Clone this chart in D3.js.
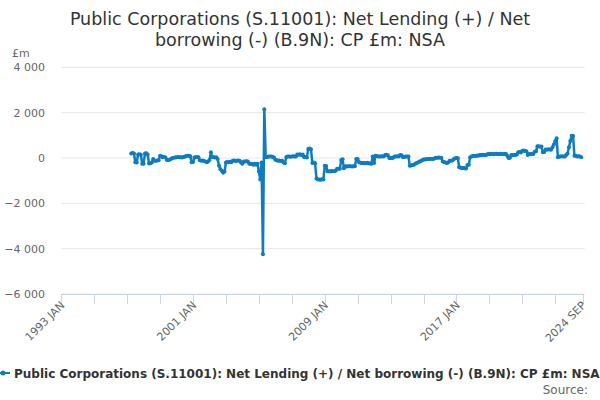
<!DOCTYPE html>
<html>
<head>
<meta charset="utf-8">
<script src="https://cdn.jsdelivr.net/npm/d3@7"></script>
<style>
  body { margin: 0; background: #fff; }
  svg { font-family: "DejaVu Sans", sans-serif; }
</style>
</head>
<body>
<div id="chart"></div>
<script>
// series: monthly, first value is 1997 APR
const seriesName = "Public Corporations (S.11001): Net Lending (+) / Net borrowing (-) (B.9N): CP £m: NSA";
const firstMonth = "1997-04";
const netLending = [
    200, 220, 200, -190, -200, 150, 160, 140, -260, -250, 200, 210, 150, -240, -230, -200, -40,
    -120, -120, -110, -100, 100, 80, 30, 40, 20, -90, -90, -80, -50, 0, 10, 20, 30,
    40, 30, 30, 20, 40, 50, 90, 100, 100, 80, -190, -180, 20, 30, 40, 30, -100, -120,
    -110, -130, -150, -190, -150, -90, 250, 40, 30, 20, 30, -40, -340, -500, -560, -650, -600,
    -200, -180, -190, -170, -190, -120, -110, -130, -120, -110, -120, -200, -260,
    -150, -150, -140, -160, -260, -260, -270, -300, -250, -300, -250, -600, -950, -200,
    -4250, 2150, 40, 30, 60, 70, 70, 50, 20, -80, -100, -120, -110, -130, -120, -200, -235,
    40, 60, 70, 50, 60, 80, 60, 70, 150, 140, 160, 130, 150, 30, 40, 20, 400, 420, 380,
    -220, -200, -230, -900, -950, -950, -960, -940, -950, -340, -350,
    -590, -580, -600, -570, -590, -580, -560, -480, -470, -480, -90, -60, -450,
    -370, -380, -370, -360, -370, -380, -370, -360, -40, -50, -190, -210,
    -220, -220, -230, -220, -210, -230, -240, -260, 70, -220, 100, 90,
    70, 60, 70, 80, 70, 130, 140, 120, 0, 10, -10, 20, 70, 60, 80, 70, 130, 120, 30, 40,
    70, 70, 60, -340, -330, -310, -300, -260, -220, -200, -160, -140, -100, -70, -70, -60,
    -40, -40, -30, -40, -50, -20, 15, 10, 20, 15, 10, -160, -180, -200, -220, -200,
    -120, -120, -110, -60, -15, 0, -10, -410, -420, -450, -440, -450, -460, -310, -300, 30,
    60, 100, 100, 90, 110, 100, 130, 120, 140, 130, 120, 140,
    180, 170, 190, 180, 170, 180, 190, 180, 170, 190, 180, 170, 180, 190, 100, 0, 10,
    130, 120, 140, 130, 150, 250, 260, 240, 320, 330, 310, 300, 130, 180, 170, 190, 180,
    280, 300, 515, 520, 500, 510, 250, 260, 370, 360, 380, 370, 360, 470, 600, 750, 870,
    30, 70, 60, 80, 70, 60, 130, 200, 470, 750, 985, 970, 100, 100, 70, 80, 60, 30
];

const yTicks = [4000, 2000, 0, -2000, -4000, -6000];
const xTickDates = ["1993-01", "1995-01", "1997-01", "1999-01", "2001-01", "2003-01", "2005-01", "2007-01",
    "2009-01", "2011-01", "2013-01", "2015-01", "2017-01", "2019-01", "2021-01", "2023-01", "2024-09"];
const xTickLabels = { "1993-01": "1993 JAN", "2001-01": "2001 JAN", "2009-01": "2009 JAN", "2017-01": "2017 JAN", "2024-09": "2024 SEP" };

const width = 600, height = 400;
const margin = { top: 67.3, right: 17.3, bottom: 106, left: 61.3 };
const lineColor = "#0f7cc0";

const parseMonth = d3.timeParse("%Y-%m");
const start = parseMonth(firstMonth);
const data = netLending.map((v, i) => ({ date: d3.timeMonth.offset(start, i), value: v }));

const svg = d3.select("#chart").append("svg")
    .attr("width", width)
    .attr("height", height);

const x = d3.scaleTime()
    .domain([parseMonth("1993-01"), parseMonth("2024-09")])
    .range([margin.left, width - margin.right]);

const y = d3.scaleLinear()
    .domain([-6000, 4000])
    .range([height - margin.bottom, margin.top]);

const fmt = v => d3.format(",")(v).replace(/,/g, " ");

// title
const title = svg.append("text")
    .attr("text-anchor", "middle")
    .attr("fill", "#333")
    .style("font-size", "17.5px");
title.append("tspan").attr("x", width / 2).attr("y", 25).text("Public Corporations (S.11001): Net Lending (+) / Net");
title.append("tspan").attr("x", width / 2).attr("y", 46).text("borrowing (-) (B.9N): CP £m: NSA");

// y grid + labels
const yAxis = svg.append("g").attr("class", "y-axis");
yAxis.selectAll("line")
    .data(yTicks)
    .enter().append("line")
    .attr("x1", margin.left)
    .attr("x2", width - margin.right + 2)
    .attr("y1", d => y(d))
    .attr("y2", d => y(d))
    .attr("stroke", "#e6e6e6")
    .attr("stroke-width", 1);
yAxis.selectAll("text")
    .data(yTicks)
    .enter().append("text")
    .attr("x", 45)
    .attr("y", d => y(d) + 4)
    .attr("text-anchor", "end")
    .attr("fill", "#666")
    .style("font-size", "11px")
    .text(d => fmt(d));

svg.append("text")
    .attr("x", 12)
    .attr("y", 57)
    .attr("fill", "#666")
    .style("font-size", "11px")
    .text("£m");

// x axis
const xAxis = svg.append("g").attr("class", "x-axis");
xAxis.append("line")
    .attr("x1", margin.left)
    .attr("x2", width - margin.right + 1)
    .attr("y1", y(-6000) + 0.5)
    .attr("y2", y(-6000) + 0.5)
    .attr("stroke", "#ccd6eb");
xAxis.selectAll("line.tick")
    .data(xTickDates)
    .enter().append("line")
    .attr("class", "tick")
    .attr("x1", d => Math.round(x(parseMonth(d))) + 0.5)
    .attr("x2", d => Math.round(x(parseMonth(d))) + 0.5)
    .attr("y1", y(-6000))
    .attr("y2", y(-6000) + 10)
    .attr("stroke", "#ccd6eb");
xAxis.selectAll("text")
    .data(xTickDates.filter(d => xTickLabels[d]))
    .enter().append("text")
    .attr("transform", d => "translate(" + (x(parseMonth(d)) + 4) + "," + (y(-6000) + 12) + ") rotate(-45)")
    .attr("text-anchor", "end")
    .attr("fill", "#666")
    .style("font-size", "11px")
    .text(d => xTickLabels[d]);

// series line
const line = d3.line()
    .x(d => x(d.date))
    .y(d => y(d.value));

svg.append("path")
    .datum(data)
    .attr("fill", "none")
    .attr("stroke", lineColor)
    .attr("stroke-width", 2.5)
    .attr("stroke-linejoin", "round")
    .attr("d", line);

svg.append("g")
    .selectAll("circle")
    .data(data)
    .enter().append("circle")
    .attr("cx", d => x(d.date))
    .attr("cy", d => y(d.value))
    .attr("r", 2)
    .attr("fill", lineColor);

// legend
const legend = svg.append("g").attr("transform", "translate(0,373)");
legend.append("line")
    .attr("x1", -4).attr("x2", 10)
    .attr("y1", 0).attr("y2", 0)
    .attr("stroke", lineColor)
    .attr("stroke-width", 2);
legend.append("circle")
    .attr("cx", 3).attr("cy", 0).attr("r", 2.5)
    .attr("fill", lineColor);
legend.append("text")
    .attr("x", 14)
    .attr("y", 4.5)
    .attr("fill", "#333")
    .style("font-size", "12px")
    .style("font-weight", "bold")
    .text(seriesName);

svg.append("text")
    .attr("x", 588)
    .attr("y", 394)
    .attr("text-anchor", "end")
    .attr("fill", "#666")
    .style("font-size", "12px")
    .text("Source:");
</script>
</body>
</html>
